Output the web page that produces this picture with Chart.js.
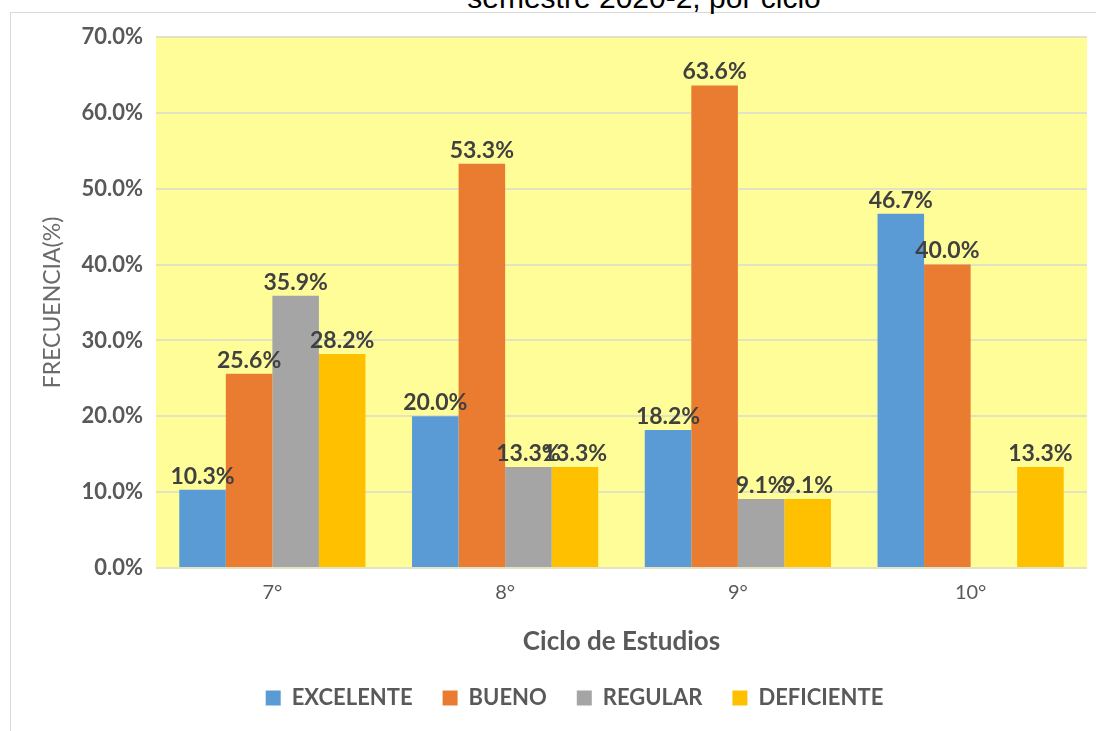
<!DOCTYPE html>
<html>
<head>
<meta charset="utf-8">
<script src="https://cdn.jsdelivr.net/npm/chart.js@4.4.1/dist/chart.umd.min.js"></script>
<style>
  html, body { margin: 0; padding: 0; background: #fff; overflow: hidden; }
  #frame { position: absolute; left: 10px; top: 12px; width: 1200px; height: 800px;
           border-left: 1px solid #d9d9d9; border-top: 1px solid #d9d9d9; }
  #title { position: absolute; left: 0; width: 1288px; top: -17px; line-height: 30px; text-align: center;
           font-family: "Liberation Sans", Arial, sans-serif; font-size: 30px; color: #000; white-space: nowrap; }
  #wrap { position: absolute; left: 0; top: 0; width: 1096px; height: 731px; }
</style>
</head>
<body>
<div id="frame"></div>
<div id="title">semestre 2020-2, por ciclo</div>
<div id="wrap"><canvas id="ciclosChart"></canvas></div>
<script>
// categorias y valores (porcentajes)
const ciclos = ['7°', '8°', '9°', '10°'];
const excelente = [10.3, 20.0, 18.2, 46.7];
const bueno = [25.6, 53.3, 63.6, 40.0];
const regular = [35.9, 13.3, 9.1, null];
const deficiente = [28.2, 13.3, 9.1, 13.3];
const yTicks = [0, 10, 20, 30, 40, 50, 60, 70];

const fontName = 'Lato, "Open Sans", sans-serif';
const textGray = '#595959';

// fondo amarillo del area de trazado
const plotBackground = {
  id: 'plotBackground',
  beforeDraw(chart) {
    const { ctx, chartArea } = chart;
    ctx.save();
    ctx.fillStyle = '#FFFD98';
    ctx.fillRect(chartArea.left, chartArea.top, chartArea.right - chartArea.left, chartArea.bottom - chartArea.top);
    ctx.restore();
  }
};

// la leyenda del original esta algo corrida a la derecha
const legendShift = {
  id: 'legendShift',
  afterLayout(chart) {
    chart.legend.left += 26;
    chart.legend.right += 26;
  }
};

// etiquetas de valor encima de cada barra
const valueLabels = {
  id: 'valueLabels',
  afterDatasetsDraw(chart) {
    const ctx = chart.ctx;
    ctx.save();
    ctx.font = 'bold 23px ' + fontName;
    ctx.fillStyle = '#404040';
    ctx.textAlign = 'center';
    ctx.textBaseline = 'bottom';
    chart.data.datasets.forEach((ds, i) => {
      const meta = chart.getDatasetMeta(i);
      meta.data.forEach((bar, j) => {
        const v = ds.data[j];
        if (v === null || v === undefined) return;
        ctx.fillText(v.toFixed(1) + '%', bar.x, bar.y - 2);
      });
    });
    ctx.restore();
  }
};

const ctx = document.getElementById('ciclosChart').getContext('2d');
const ciclosChart = new Chart(ctx, {
  type: 'bar',
  data: {
    labels: ciclos,
    datasets: [
      { label: 'EXCELENTE', data: excelente, backgroundColor: '#5B9BD5' },
      { label: 'BUENO', data: bueno, backgroundColor: '#E97C30' },
      { label: 'REGULAR', data: regular, backgroundColor: '#A5A5A5' },
      { label: 'DEFICIENTE', data: deficiente, backgroundColor: '#FFC000' }
    ]
  },
  options: {
    responsive: true,
    maintainAspectRatio: false,
    animation: false,
    layout: { padding: { left: 10, top: 37, right: 9, bottom: 12 } },
    datasets: { bar: { categoryPercentage: 0.8, barPercentage: 1.0 } },
    scales: {
      x: {
        afterFit: (scale) => { scale.height = 89; },
        grid: { display: false },
        border: { display: false },
        ticks: { color: textGray, font: { family: fontName, size: 20 }, padding: 5 },
        title: {
          display: true,
          text: 'Ciclo de Estudios',
          color: textGray,
          font: { family: fontName, size: 26, weight: 'bold' },
          padding: { top: 10, bottom: 0 }
        }
      },
      y: {
        min: 0,
        max: 70,
        afterBuildTicks: (scale) => { scale.ticks = yTicks.map(v => ({ value: v })); },
        afterFit: (scale) => { scale.width = 146; },
        grid: { color: '#E2E2C4', lineWidth: 2, drawTicks: false },
        border: { display: false },
        ticks: {
          color: textGray,
          padding: 13,
          font: { family: fontName, size: 22, weight: 'bold' },
          callback: (v) => Number(v).toFixed(1) + '%'
        },
        title: {
          display: true,
          text: 'FRECUENCIA(%)',
          color: '#6a6a6a',
          font: { family: fontName, size: 23 },
          padding: { top: 29, bottom: 0 }
        }
      }
    },
    plugins: {
      legend: {
        display: true,
        position: 'bottom',
        labels: {
          color: textGray,
          boxWidth: 15,
          boxHeight: 15,
          padding: 30,
          font: { family: fontName, size: 22, weight: 'bold' }
        }
      },
      tooltip: { enabled: false }
    }
  },
  plugins: [plotBackground, legendShift, valueLabels]
});
</script>
</body>
</html>
